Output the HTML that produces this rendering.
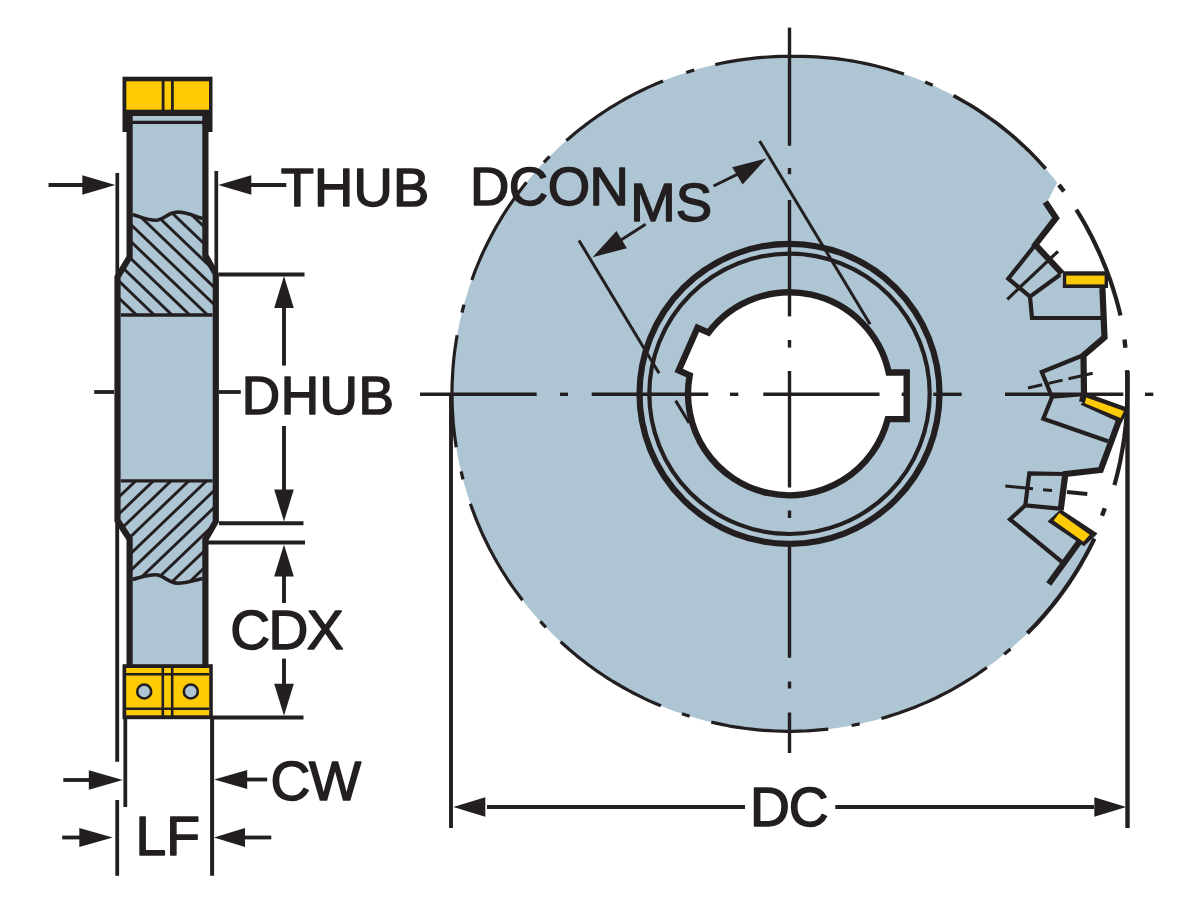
<!DOCTYPE html>
<html><head><meta charset="utf-8"><title>Side and face milling cutter dimensions</title>
<style>html,body{margin:0;padding:0;background:#fff}svg{display:block}text{font-family:"Liberation Sans",sans-serif;fill:#231F20}</style>
</head><body>
<svg role="img" aria-label="Side and face milling cutter dimension drawing" width="1200" height="900" viewBox="0 0 1200 900">
<rect width="1200" height="900" fill="#fff"/>
<path d="M1057.1,182.5 L1053.4,177.8 L1049.6,173.2 L1045.7,168.7 L1041.7,164.3 L1037.7,159.9 L1033.5,155.6 L1029.3,151.4 L1025.1,147.3 L1020.7,143.2 L1016.3,139.2 L1011.8,135.3 L1007.3,131.4 L1002.6,127.7 L997.9,124.1 L993.1,120.5 L988.3,117.1 L983.4,113.7 L978.5,110.4 L973.5,107.2 L968.4,104.1 L963.3,101.0 L958.1,98.1 L952.9,95.3 L947.6,92.5 L942.3,89.9 L937.0,87.3 L931.6,84.8 L926.1,82.5 L920.6,80.2 L915.1,78.1 L909.5,76.0 L903.9,74.1 L898.3,72.2 L892.6,70.5 L886.9,68.8 L881.2,67.3 L875.5,65.8 L869.7,64.5 L863.9,63.2 L858.1,62.1 L852.3,61.0 L846.5,60.1 L840.6,59.3 L834.7,58.5 L828.9,57.9 L823.0,57.4 L817.1,56.9 L811.2,56.6 L805.3,56.4 L799.4,56.3 L793.5,56.3 L787.6,56.3 L781.7,56.4 L775.8,56.6 L770.0,56.9 L764.1,57.3 L758.2,57.8 L752.4,58.4 L746.5,59.1 L740.7,59.9 L734.8,60.8 L729.0,61.8 L723.2,62.9 L717.5,64.1 L711.7,65.4 L706.0,66.8 L700.3,68.3 L694.6,69.9 L689.0,71.6 L683.4,73.4 L677.8,75.3 L672.3,77.3 L666.8,79.4 L661.3,81.6 L655.9,83.9 L650.5,86.3 L645.1,88.7 L639.8,91.3 L634.6,94.0 L629.4,96.7 L624.2,99.6 L619.1,102.5 L614.0,105.5 L609.0,108.6 L604.1,111.8 L599.2,115.1 L594.3,118.5 L589.6,121.9 L584.8,125.4 L580.2,129.0 L575.6,132.7 L571.1,136.5 L566.6,140.4 L562.2,144.3 L557.9,148.3 L553.6,152.4 L549.5,156.5 L545.4,160.8 L541.3,165.1 L537.4,169.4 L533.5,173.9 L529.7,178.4 L526.0,182.9 L522.3,187.6 L518.8,192.3 L515.3,197.0 L511.9,201.8 L508.6,206.7 L505.4,211.7 L502.2,216.6 L499.2,221.7 L496.2,226.8 L493.4,231.9 L490.6,237.1 L487.9,242.4 L485.3,247.6 L482.8,253.0 L480.4,258.4 L478.1,263.8 L475.8,269.2 L473.7,274.7 L471.7,280.3 L469.7,285.8 L467.9,291.4 L466.2,297.1 L464.5,302.7 L463.0,308.4 L461.5,314.1 L460.2,319.9 L459.0,325.6 L457.8,331.4 L456.8,337.2 L455.8,343.0 L455.0,348.8 L454.3,354.7 L453.6,360.5 L453.1,366.4 L452.7,372.3 L452.4,378.2 L452.1,384.1 L452.0,390.0 L452.0,395.8 L452.1,401.7 L452.3,407.6 L452.6,413.5 L453.0,419.4 L453.5,425.3 L454.1,431.1 L454.8,437.0 L455.6,442.8 L456.5,448.6 L457.5,454.4 L458.6,460.2 L459.8,466.0 L461.1,471.7 L462.5,477.5 L464.0,483.2 L465.7,488.8 L467.4,494.5 L469.2,500.1 L471.1,505.6 L473.1,511.2 L475.2,516.7 L477.4,522.2 L479.7,527.6 L482.0,533.0 L484.5,538.3 L487.1,543.6 L489.7,548.9 L492.5,554.1 L495.3,559.3 L498.3,564.4 L501.3,569.4 L504.4,574.4 L507.6,579.4 L510.9,584.3 L514.3,589.1 L517.7,593.9 L521.2,598.6 L524.9,603.3 L528.6,607.8 L532.3,612.4 L536.2,616.8 L540.1,621.2 L544.1,625.5 L548.2,629.8 L552.4,634.0 L556.6,638.1 L560.9,642.1 L565.3,646.0 L569.7,649.9 L574.2,653.7 L578.8,657.4 L583.4,661.1 L588.1,664.6 L592.9,668.1 L597.7,671.5 L602.6,674.8 L607.5,678.0 L612.5,681.2 L617.5,684.2 L622.6,687.2 L627.8,690.0 L633.0,692.8 L638.2,695.5 L643.5,698.1 L648.8,700.6 L654.2,703.0 L659.6,705.3 L665.1,707.5 L670.6,709.7 L676.1,711.7 L681.7,713.6 L687.3,715.5 L692.9,717.2 L698.6,718.8 L704.3,720.4 L710.0,721.8 L715.7,723.1 L721.5,724.4 L727.3,725.5 L733.1,726.5 L738.9,727.5 L744.7,728.3 L750.6,729.0 L756.4,729.7 L762.3,730.2 L768.2,730.6 L774.1,730.9 L779.9,731.2 L785.8,731.3 L791.7,731.3 L797.6,731.2 L803.5,731.0 L809.4,730.7 L815.3,730.3 L821.1,729.8 L827.0,729.2 L832.9,728.5 L838.7,727.7 L844.5,726.8 L850.3,725.8 L856.1,724.7 L861.9,723.4 L867.6,722.1 L873.3,720.7 L879.0,719.2 L884.7,717.6 L890.3,715.9 L895.9,714.1 L901.5,712.2 L907.1,710.2 L912.6,708.1 L918.0,705.9 L923.5,703.6 L928.8,701.2 L934.2,698.7 L939.5,696.1 L944.8,693.5 L950.0,690.7 L955.1,687.9 L960.2,684.9 L965.3,681.9 L970.3,678.8 L975.2,675.6 L980.1,672.3 L985.0,668.9 L989.7,665.5 L994.4,661.9 L999.1,658.3 L1003.7,654.6 L1008.2,650.9 L1012.7,647.0 L1017.0,643.1 L1021.4,639.0 L1025.6,635.0 L1029.8,630.8 L1033.9,626.6 L1037.9,622.3 L1041.9,617.9 L1045.7,613.5 L1049.5,609.0 L1053.2,604.4 L1056.9,599.7 L1060.4,595.0 L1063.9,590.3 L1067.3,585.5 L1070.6,580.6 L1073.8,575.6 L1077.0,570.7 L1080.0,565.6 L1082.9,560.5 L1085.8,555.4 L1088.6,550.2 L1091.3,544.9 L1093.9,539.6 L1096.4,534.3 L1083.0,545.0 L1060.7,510.0 L1065.3,474.0 L1100.7,470.0 L1120.0,420.0 L1082.0,403.3 L1084.0,394.0 L1083.3,355.3 L1104.7,337.3 L1103.3,288.0 L1062.7,288.0 L1062.0,273.3 L1035.3,244.7 L1056.0,218.0 L1045.3,202.0 L1049.0,198.8 Z" fill="#AEC5D3"/>
<path d="M715.3,64.6 L721.1,63.3 L727.0,62.1 L732.9,61.1 L738.7,60.1 L744.6,59.3 L750.6,58.6 L756.5,57.9 L762.4,57.4 L768.4,57.0 L774.3,56.6 L780.3,56.4 L786.3,56.3 L792.2,56.3 L798.2,56.3 L804.2,56.4 L810.1,56.6 L816.1,56.9 L822.1,57.3 L828.0,57.8 L834.0,58.4 L839.9,59.2 L845.8,60.0 L851.7,60.9 L857.6,62.0 L863.5,63.1 L869.3,64.4 L875.2,65.7 L881.0,67.2 L886.8,68.8 L892.5,70.5 L898.3,72.2 L904.0,74.1" fill="none" stroke="#231F20" stroke-width="3.2" stroke-linejoin="round"/>
<path d="M953.5,95.6 L958.9,98.6 L964.3,101.7 L969.7,104.8 L974.9,108.1 L980.2,111.5 L985.3,115.0 L990.4,118.6 L995.5,122.2 L1000.4,126.0 L1005.3,129.9 L1010.2,133.8 L1014.9,137.9 L1019.5,142.1 L1024.1,146.3 L1028.6,150.6 L1033.0,155.0 L1037.3,159.5 L1041.5,164.1 L1045.7,168.7" fill="none" stroke="#231F20" stroke-width="3.6" stroke-linejoin="round"/>
<path d="M1076.3,209.7 L1079.5,214.8 L1082.6,220.0 L1085.6,225.3 L1088.5,230.7 L1091.3,236.0 L1094.0,241.5 L1096.6,247.0 L1099.2,252.5 L1101.6,258.0 L1103.9,263.6 L1106.2,269.3 L1108.3,274.9 L1110.4,280.6 L1112.3,286.4 L1114.1,292.2 L1115.9,298.0 L1117.5,303.8 L1119.1,309.7 L1120.5,315.6" fill="none" stroke="#231F20" stroke-width="4.2" stroke-linejoin="round"/>
<path d="M1127.0,370.2 L1127.3,376.3 L1127.4,382.4 L1127.4,388.6 L1127.3,394.7 L1127.2,400.8 L1127.0,406.9 L1126.7,413.0 L1126.2,419.1 L1125.7,425.2 L1125.0,431.2 L1124.3,437.3 L1123.4,443.4 L1122.4,449.4 L1121.3,455.4 L1120.2,461.4 L1118.9,467.4 L1117.5,473.3 L1116.0,479.2 L1114.4,485.1" fill="none" stroke="#231F20" stroke-width="4.2" stroke-linejoin="round"/>
<path d="M1094.4,538.6 L1091.7,544.1 L1088.9,549.6 L1086.0,555.0 L1083.0,560.3 L1080.0,565.7 L1076.8,570.9 L1073.5,576.1 L1070.2,581.2 L1066.7,586.3 L1063.2,591.3 L1059.5,596.3 L1055.8,601.1 L1052.0,606.0 L1048.1,610.7 L1044.1,615.4 L1040.0,620.0 L1035.9,624.5 L1031.6,628.9 L1027.3,633.3" fill="none" stroke="#231F20" stroke-width="4.2" stroke-linejoin="round"/>
<path d="M986.9,667.5 L982.1,670.9 L977.2,674.3 L972.3,677.5 L967.3,680.6 L962.3,683.7 L957.2,686.7 L952.1,689.6 L946.9,692.3 L941.7,695.0 L936.4,697.7 L931.1,700.2 L925.7,702.6 L920.3,704.9 L914.8,707.2 L909.3,709.3 L903.8,711.3 L898.3,713.3 L892.7,715.1 L887.0,716.9 L881.4,718.5" fill="none" stroke="#231F20" stroke-width="3.2" stroke-linejoin="round"/>
<path d="M828.3,729.1 L822.4,729.7 L816.6,730.2 L810.7,730.6 L804.8,731.0 L798.9,731.2 L793.0,731.3 L787.1,731.3 L781.3,731.2 L775.4,731.0 L769.5,730.7 L763.6,730.3 L757.7,729.8 L751.9,729.2 L746.0,728.5 L740.2,727.7 L734.4,726.8 L728.6,725.8 L722.8,724.6 L717.0,723.4 L711.3,722.1" fill="none" stroke="#231F20" stroke-width="3.2" stroke-linejoin="round"/>
<path d="M660.9,705.8 L655.4,703.5 L649.9,701.1 L644.5,698.6 L639.1,695.9 L633.8,693.2 L628.5,690.4 L623.3,687.5 L618.1,684.5 L613.0,681.5 L607.9,678.3 L602.9,675.0 L597.9,671.7 L593.1,668.2 L588.2,664.7 L583.5,661.1 L578.8,657.4 L574.1,653.6 L569.6,649.8 L565.1,645.8 L560.6,641.8" fill="none" stroke="#231F20" stroke-width="3.2" stroke-linejoin="round"/>
<path d="M522.5,600.2 L518.8,595.3 L515.2,590.4 L511.6,585.4 L508.2,580.3 L504.9,575.2 L501.6,570.0 L498.5,564.7 L495.4,559.4 L492.5,554.1 L489.6,548.7 L486.9,543.2 L484.2,537.7 L481.6,532.1 L479.2,526.5 L476.8,520.9 L474.6,515.2 L472.4,509.4 L470.4,503.7" fill="none" stroke="#231F20" stroke-width="3.2" stroke-linejoin="round"/>
<path d="M456.2,447.2 L455.4,441.3 L454.6,435.5 L453.9,429.6 L453.3,423.7 L452.9,417.8 L452.5,411.9 L452.2,406.0 L452.1,400.0 L452.0,394.1 L452.0,388.2 L452.2,382.3 L452.5,376.4 L452.8,370.4 L453.3,364.5 L453.8,358.6 L454.5,352.8 L455.3,346.9 L456.2,341.0 L457.1,335.2" fill="none" stroke="#231F20" stroke-width="3.2" stroke-linejoin="round"/>
<path d="M471.8,280.0 L473.8,274.5 L475.9,269.0 L478.2,263.5 L480.5,258.0 L482.9,252.6 L485.5,247.3 L488.1,242.0 L490.8,236.7 L493.6,231.5 L496.5,226.3 L499.5,221.2 L502.5,216.1 L505.7,211.1 L509.0,206.2 L512.3,201.3 L515.7,196.5 L519.2,191.7 L522.8,187.0 L526.5,182.3" fill="none" stroke="#231F20" stroke-width="3.2" stroke-linejoin="round"/>
<path d="M566.3,140.6 L570.9,136.7 L575.5,132.8 L580.2,129.1 L584.9,125.4 L589.7,121.8 L594.6,118.3 L599.5,114.8 L604.5,111.5 L609.6,108.2 L614.7,105.1 L619.9,102.0 L625.1,99.0 L630.4,96.2 L635.7,93.4 L641.1,90.7 L646.5,88.1 L652.0,85.6 L657.5,83.2 L663.1,80.9" fill="none" stroke="#231F20" stroke-width="3.2" stroke-linejoin="round"/>
<path d="M925.1,82.0 L932.7,85.3" fill="none" stroke="#231F20" stroke-width="3.3" stroke-linejoin="round"/>
<path d="M1058.9,184.8 L1064.0,191.4" fill="none" stroke="#231F20" stroke-width="4.4" stroke-linejoin="round"/>
<path d="M1124.5,339.5 L1125.4,347.8" fill="none" stroke="#231F20" stroke-width="4.4" stroke-linejoin="round"/>
<path d="M1010.5,648.9 L1004.2,654.2" fill="none" stroke="#231F20" stroke-width="3.3" stroke-linejoin="round"/>
<path d="M859.7,723.9 L851.6,725.5" fill="none" stroke="#231F20" stroke-width="3.3" stroke-linejoin="round"/>
<path d="M689.7,716.2 L681.9,713.7" fill="none" stroke="#231F20" stroke-width="3.3" stroke-linejoin="round"/>
<path d="M545.9,627.4 L540.3,621.4" fill="none" stroke="#231F20" stroke-width="3.3" stroke-linejoin="round"/>
<path d="M463.0,479.4 L461.1,471.4" fill="none" stroke="#231F20" stroke-width="3.3" stroke-linejoin="round"/>
<path d="M461.9,312.7 L464.0,304.7" fill="none" stroke="#231F20" stroke-width="3.3" stroke-linejoin="round"/>
<path d="M543.9,162.3 L549.6,156.4" fill="none" stroke="#231F20" stroke-width="3.3" stroke-linejoin="round"/>
<path d="M686.3,72.5 L694.2,70.0" fill="none" stroke="#231F20" stroke-width="3.3" stroke-linejoin="round"/>
<circle cx="789.5" cy="393.8" r="150" fill="none" stroke="#231F20" stroke-width="6.2"/>
<circle cx="789.5" cy="393.8" r="140.2" fill="none" stroke="#231F20" stroke-width="4.2"/>
<path d="M888.7,372.5 L906.7,372.5 L906.7,419.1 L887.8,419.1 A101.5,101.5 0 0 1 689.7,375.3 L678.7,370.4 L697.5,327.8 L708.5,332.6 A101.5,101.5 0 0 1 888.7,372.5 Z" fill="#fff" stroke="#231F20" stroke-width="6.4" stroke-linejoin="miter"/>
<line x1="420.0" y1="394.3" x2="536.7" y2="394.3" stroke="#231F20" stroke-width="3.4" />
<line x1="560.0" y1="394.3" x2="568.0" y2="394.3" stroke="#231F20" stroke-width="3.4" />
<line x1="591.7" y1="394.3" x2="708.3" y2="394.3" stroke="#231F20" stroke-width="3.4" />
<line x1="730.0" y1="394.3" x2="738.3" y2="394.3" stroke="#231F20" stroke-width="3.4" />
<line x1="763.3" y1="394.3" x2="879.5" y2="394.3" stroke="#231F20" stroke-width="3.4" />
<line x1="901.7" y1="394.3" x2="906.7" y2="394.3" stroke="#231F20" stroke-width="3.4" />
<line x1="933.3" y1="394.3" x2="961.7" y2="394.3" stroke="#231F20" stroke-width="3.4" />
<line x1="1005.0" y1="394.3" x2="1123.3" y2="394.3" stroke="#231F20" stroke-width="3.4" />
<line x1="1145.0" y1="394.3" x2="1153.3" y2="394.3" stroke="#231F20" stroke-width="3.4" />
<line x1="789.5" y1="27.6" x2="789.5" y2="145.8" stroke="#231F20" stroke-width="3.4" />
<line x1="789.5" y1="168.0" x2="789.5" y2="174.2" stroke="#231F20" stroke-width="3.4" />
<line x1="789.5" y1="200.0" x2="789.5" y2="316.4" stroke="#231F20" stroke-width="3.4" />
<line x1="789.5" y1="340.0" x2="789.5" y2="347.6" stroke="#231F20" stroke-width="3.4" />
<line x1="789.5" y1="371.0" x2="789.5" y2="487.5" stroke="#231F20" stroke-width="3.4" />
<line x1="789.5" y1="510.5" x2="789.5" y2="518.0" stroke="#231F20" stroke-width="3.4" />
<line x1="789.5" y1="547.0" x2="789.5" y2="657.8" stroke="#231F20" stroke-width="3.4" />
<line x1="789.5" y1="681.5" x2="789.5" y2="688.5" stroke="#231F20" stroke-width="3.4" />
<line x1="789.5" y1="712.5" x2="789.5" y2="753.0" stroke="#231F20" stroke-width="3.4" />
<line x1="579.0" y1="240.5" x2="659.1" y2="373.2" stroke="#231F20" stroke-width="3.0" />
<line x1="675.6" y1="400.6" x2="689.1" y2="422.9" stroke="#231F20" stroke-width="3.0" />
<line x1="759.6" y1="140.9" x2="870.1" y2="324.2" stroke="#231F20" stroke-width="3.0" />
<polygon points="592.6,257.2 616.5,231.1 626.9,248.2" fill="#231F20"/>
<line x1="609.7" y1="247.2" x2="645.6" y2="224.3" stroke="#231F20" stroke-width="3.0" />
<polygon points="766.5,158.3 742.6,184.4 732.2,167.3" fill="#231F20"/>
<line x1="748.9" y1="168.6" x2="713.6" y2="186.0" stroke="#231F20" stroke-width="3.0" />
<path d="M1045.3,202.0 L1056.0,218.0 L1035.3,244.7 L1062.0,273.3" fill="none" stroke="#231F20" stroke-width="6.2" stroke-linejoin="miter" />
<path d="M1102.4,288.0 L1104.5,337.3 L1083.5,355.3 L1084.0,394.0 L1082.0,402.0" fill="none" stroke="#231F20" stroke-width="6.2" stroke-linejoin="miter" />
<path d="M1119.0,420.5 L1100.7,470.0 L1065.3,474.0 L1060.7,510.0" fill="none" stroke="#231F20" stroke-width="6.2" stroke-linejoin="miter" />
<path d="M1079.5,541.5 L1048.7,584.0" fill="none" stroke="#231F20" stroke-width="6.2" stroke-linejoin="miter" />
<rect x="1062.7" y="271.3" width="45.3" height="16.7" fill="#231F20"/>
<rect x="1066.2" y="275.6" width="38.4" height="8.8" fill="#FFCB05"/>
<path d="M1035.3,244.7 L1008.3,278.7 L1030.0,296.7 L1060.0,274.7" fill="none" stroke="#231F20" stroke-width="4.2" stroke-linejoin="miter" />
<line x1="1058.0" y1="251.3" x2="1007.3" y2="299.3" stroke="#231F20" stroke-width="3.2" />
<path d="M1030.0,296.7 L1032.0,318.0 L1102.7,318.0" fill="none" stroke="#231F20" stroke-width="4.2" stroke-linejoin="miter" />
<path d="M1088.3,393.6 L1129.3,408.3 L1121.3,423.3 L1080.7,404.7 Z" fill="#231F20" stroke="none" stroke-width="0" stroke-linejoin="miter" />
<path d="M1086.3,397.5 L1124.0,411.1 L1120.6,418.1 L1084.8,403.2 Z" fill="#FFCB05" stroke="none" stroke-width="0" stroke-linejoin="miter" />
<path d="M1082.0,355.8 L1041.8,372.0 L1052.0,397.3" fill="none" stroke="#231F20" stroke-width="4.2" stroke-linejoin="miter" />
<line x1="1052.0" y1="397.3" x2="1083.0" y2="394.8" stroke="#231F20" stroke-width="3.0" />
<line x1="1028.0" y1="388.0" x2="1092.7" y2="373.3" stroke="#231F20" stroke-width="3.0" stroke-dasharray="14.5 6.5 14.5 6 14 4 8 0"/>
<path d="M1052.0,397.3 L1043.3,418.7 L1108.0,441.3" fill="none" stroke="#231F20" stroke-width="4.2" stroke-linejoin="miter" />
<path d="M1060.7,509.3 L1097.5,533.5 L1084.0,546.3 L1047.5,521.6 Z" fill="#231F20" stroke="none" stroke-width="0" stroke-linejoin="miter" />
<path d="M1059.3,513.1 L1089.7,534.7 L1083.4,541.8 L1053.6,520.4 Z" fill="#FFCB05" stroke="none" stroke-width="0" stroke-linejoin="miter" />
<path d="M1065.3,474.0 L1029.3,473.3 L1025.3,505.3 L1059.3,508.7" fill="none" stroke="#231F20" stroke-width="4.2" stroke-linejoin="miter" />
<line x1="1005.3" y1="486.0" x2="1033.0" y2="488.7" stroke="#231F20" stroke-width="3.0" />
<line x1="1043.0" y1="489.7" x2="1052.0" y2="490.5" stroke="#231F20" stroke-width="3.0" />
<line x1="1067.0" y1="492.0" x2="1087.3" y2="494.0" stroke="#231F20" stroke-width="3.9" />
<path d="M1025.3,505.3 L1010.0,519.3 L1062.7,562.7" fill="none" stroke="#231F20" stroke-width="4.2" stroke-linejoin="miter" />
<line x1="1104.8" y1="508.3" x2="1102.0" y2="515.7" stroke="#231F20" stroke-width="4.4" />
<line x1="451.0" y1="393.0" x2="451.0" y2="828.0" stroke="#231F20" stroke-width="3.9" />
<line x1="1127.5" y1="371.0" x2="1127.5" y2="828.0" stroke="#231F20" stroke-width="4.4" />
<line x1="487.0" y1="807.0" x2="745.0" y2="807.0" stroke="#231F20" stroke-width="3.9" />
<line x1="835.3" y1="807.0" x2="1094.0" y2="807.0" stroke="#231F20" stroke-width="3.9" />
<polygon points="453.3,807.0 485.3,797.2 485.3,816.8" fill="#231F20"/>
<polygon points="1126.3,807.0 1094.3,816.8 1094.3,797.2" fill="#231F20"/>
<text x="750.0" y="826.4" font-size="55.2" letter-spacing="-1.0" stroke="#231F20" stroke-width="1.5" stroke-linejoin="round" >DC</text>
<text x="470.0" y="205.0" font-size="54.5" letter-spacing="-0.5" stroke="#231F20" stroke-width="1.5" stroke-linejoin="round" >DCON</text>
<text x="630.3" y="220.6" font-size="54.5" letter-spacing="0" stroke="#231F20" stroke-width="1.5" stroke-linejoin="round" >MS</text>
<rect x="122.5" y="76.7" width="90" height="55.3" fill="#231F20"/>
<path d="M129.6,116.0 L129.6,257.0 L117.5,277.0 L117.5,520.5 L129.6,539.0 L129.6,668.0 L205.4,668.0 L205.4,539.5 L215.8,521.5 L215.8,274.0 L205.4,255.5 L205.4,116.0 Z" fill="#AEC5D3" stroke="none" stroke-width="0" stroke-linejoin="miter" />
<clipPath id="h1"><path d="M132.5,214.5 C144,218 151,221.5 158,220 C166,218 168,212.5 177.5,212 C187,212 195,216.5 202.5,218.5 L205.4,255.5 L215.8,274 L215.8,315 L117.5,315 L117.5,277 L129.6,257 L129.6,214 Z"/></clipPath>
<g clip-path="url(#h1)">
<line x1="-19.0" y1="200.0" x2="116.7" y2="330.0" stroke="#231F20" stroke-width="2.9" />
<line x1="-1.3" y1="200.0" x2="134.4" y2="330.0" stroke="#231F20" stroke-width="2.9" />
<line x1="16.5" y1="200.0" x2="152.2" y2="330.0" stroke="#231F20" stroke-width="2.9" />
<line x1="34.2" y1="200.0" x2="169.9" y2="330.0" stroke="#231F20" stroke-width="2.9" />
<line x1="52.0" y1="200.0" x2="187.7" y2="330.0" stroke="#231F20" stroke-width="2.9" />
<line x1="69.7" y1="200.0" x2="205.4" y2="330.0" stroke="#231F20" stroke-width="2.9" />
<line x1="87.5" y1="200.0" x2="223.2" y2="330.0" stroke="#231F20" stroke-width="2.9" />
<line x1="105.2" y1="200.0" x2="240.9" y2="330.0" stroke="#231F20" stroke-width="2.9" />
<line x1="123.0" y1="200.0" x2="258.7" y2="330.0" stroke="#231F20" stroke-width="2.9" />
<line x1="140.7" y1="200.0" x2="276.4" y2="330.0" stroke="#231F20" stroke-width="2.9" />
<line x1="158.5" y1="200.0" x2="294.2" y2="330.0" stroke="#231F20" stroke-width="2.9" />
<line x1="176.2" y1="200.0" x2="311.9" y2="330.0" stroke="#231F20" stroke-width="2.9" />
</g>
<clipPath id="h2"><path d="M132.5,579.5 C144,576.5 151,573.5 158,575 C166,577 168,582.5 177.5,583.2 C187,583.2 195,580 202.5,578.5 L205.4,539.5 L215.8,521.5 L215.8,480.8 L117.5,480.8 L117.5,520.5 L129.6,539 L129.6,580 Z"/></clipPath>
<g clip-path="url(#h2)">
<line x1="111.7" y1="470.0" x2="-24.0" y2="600.0" stroke="#231F20" stroke-width="2.9" />
<line x1="129.4" y1="470.0" x2="-6.3" y2="600.0" stroke="#231F20" stroke-width="2.9" />
<line x1="147.1" y1="470.0" x2="11.4" y2="600.0" stroke="#231F20" stroke-width="2.9" />
<line x1="164.8" y1="470.0" x2="29.1" y2="600.0" stroke="#231F20" stroke-width="2.9" />
<line x1="182.5" y1="470.0" x2="46.8" y2="600.0" stroke="#231F20" stroke-width="2.9" />
<line x1="200.2" y1="470.0" x2="64.5" y2="600.0" stroke="#231F20" stroke-width="2.9" />
<line x1="217.9" y1="470.0" x2="82.2" y2="600.0" stroke="#231F20" stroke-width="2.9" />
<line x1="235.6" y1="470.0" x2="99.9" y2="600.0" stroke="#231F20" stroke-width="2.9" />
<line x1="253.3" y1="470.0" x2="117.6" y2="600.0" stroke="#231F20" stroke-width="2.9" />
<line x1="271.0" y1="470.0" x2="135.3" y2="600.0" stroke="#231F20" stroke-width="2.9" />
<line x1="288.7" y1="470.0" x2="153.0" y2="600.0" stroke="#231F20" stroke-width="2.9" />
<line x1="306.4" y1="470.0" x2="170.7" y2="600.0" stroke="#231F20" stroke-width="2.9" />
</g>
<path d="M132.5,214.5 C144,218 151,221.5 158,220 C166,218 168,212.5 177.5,212 C187,212 195,216.5 202.5,218.5" fill="none" stroke="#231F20" stroke-width="3.6"/>
<path d="M132.5,579.5 C144,576.5 151,573.5 158,575 C166,577 168,582.5 177.5,583.2 C187,583.2 195,580 202.5,578.5" fill="none" stroke="#231F20" stroke-width="3.6"/>
<line x1="120.8" y1="315.0" x2="212.5" y2="315.0" stroke="#231F20" stroke-width="3.3" />
<line x1="120.8" y1="480.8" x2="212.5" y2="480.8" stroke="#231F20" stroke-width="3.3" />
<path d="M129.6,113.0 L129.6,257.0 L117.5,277.0 L117.5,520.5 L129.6,539.0 L129.6,666.0" fill="none" stroke="#231F20" stroke-width="6.2" stroke-linejoin="miter" />
<path d="M205.4,113.0 L205.4,255.5 L215.8,274.0 L215.8,521.5 L205.4,539.5 L205.4,666.0" fill="none" stroke="#231F20" stroke-width="6.2" stroke-linejoin="miter" />
<line x1="132.0" y1="122.4" x2="203.0" y2="122.4" stroke="#231F20" stroke-width="3.2" />
<rect x="126.3" y="81.3" width="82.7" height="28.4" fill="#FFCB05"/>
<line x1="163.1" y1="80.0" x2="163.1" y2="111.0" stroke="#231F20" stroke-width="2.8" />
<line x1="172.4" y1="80.0" x2="172.4" y2="111.0" stroke="#231F20" stroke-width="2.8" />
<rect x="122.5" y="664.2" width="90.3" height="55" fill="#231F20"/>
<rect x="126.2" y="668" width="83" height="47.3" fill="#FFCB05"/>
<line x1="126.0" y1="674.2" x2="209.0" y2="674.2" stroke="#231F20" stroke-width="2.6" />
<line x1="126.0" y1="708.7" x2="209.0" y2="708.7" stroke="#231F20" stroke-width="2.6" />
<line x1="162.8" y1="666.0" x2="162.8" y2="717.0" stroke="#231F20" stroke-width="2.6" />
<line x1="172.2" y1="666.0" x2="172.2" y2="717.0" stroke="#231F20" stroke-width="2.6" />
<circle cx="144.2" cy="691.5" r="7" fill="#AEC5D3" stroke="#231F20" stroke-width="2.6"/>
<circle cx="190.8" cy="691.5" r="7" fill="#AEC5D3" stroke="#231F20" stroke-width="2.6"/>
<line x1="94.2" y1="392.0" x2="114.0" y2="392.0" stroke="#231F20" stroke-width="3.8" />
<line x1="219.0" y1="392.0" x2="240.8" y2="392.0" stroke="#231F20" stroke-width="3.8" />
<line x1="117.3" y1="173.0" x2="117.3" y2="277.0" stroke="#231F20" stroke-width="3.7" />
<line x1="216.3" y1="171.0" x2="216.3" y2="272.0" stroke="#231F20" stroke-width="3.7" />
<polygon points="115.3,185.0 82.3,194.8 82.3,175.2" fill="#231F20"/>
<line x1="48.5" y1="185.0" x2="85.0" y2="185.0" stroke="#231F20" stroke-width="3.8" />
<polygon points="218.3,185.0 251.3,175.2 251.3,194.8" fill="#231F20"/>
<line x1="250.0" y1="185.0" x2="286.3" y2="185.0" stroke="#231F20" stroke-width="3.8" />
<text x="280.8" y="206.0" font-size="54.4" letter-spacing="0.1" stroke="#231F20" stroke-width="1.5" stroke-linejoin="round" >THUB</text>
<line x1="219.0" y1="274.5" x2="304.5" y2="274.5" stroke="#231F20" stroke-width="3.9" />
<line x1="219.0" y1="523.3" x2="303.5" y2="523.3" stroke="#231F20" stroke-width="3.9" />
<polygon points="284.0,276.0 293.8,308.0 274.2,308.0" fill="#231F20"/>
<line x1="284.0" y1="306.0" x2="284.0" y2="365.6" stroke="#231F20" stroke-width="3.9" />
<polygon points="284.0,521.5 274.2,489.5 293.8,489.5" fill="#231F20"/>
<line x1="284.0" y1="426.0" x2="284.0" y2="490.0" stroke="#231F20" stroke-width="3.9" />
<text x="241.8" y="413.8" font-size="53.2" letter-spacing="0.45" stroke="#231F20" stroke-width="1.5" stroke-linejoin="round" >DHUB</text>
<line x1="208.0" y1="542.5" x2="305.0" y2="542.5" stroke="#231F20" stroke-width="3.9" />
<line x1="212.0" y1="717.5" x2="303.5" y2="717.5" stroke="#231F20" stroke-width="3.9" />
<polygon points="284.0,544.4 293.8,576.4 274.2,576.4" fill="#231F20"/>
<line x1="284.0" y1="575.0" x2="284.0" y2="603.0" stroke="#231F20" stroke-width="3.9" />
<polygon points="284.0,715.8 274.2,683.8 293.8,683.8" fill="#231F20"/>
<line x1="284.0" y1="658.6" x2="284.0" y2="685.0" stroke="#231F20" stroke-width="3.9" />
<text x="230.2" y="649.2" font-size="55.2" letter-spacing="-1.6" stroke="#231F20" stroke-width="1.5" stroke-linejoin="round" >CDX</text>
<line x1="117.2" y1="523.0" x2="117.2" y2="761.7" stroke="#231F20" stroke-width="3.9" />
<line x1="117.2" y1="800.0" x2="117.2" y2="875.8" stroke="#231F20" stroke-width="3.8" />
<line x1="125.3" y1="719.0" x2="125.3" y2="807.0" stroke="#231F20" stroke-width="3.8" />
<line x1="212.1" y1="719.0" x2="212.1" y2="875.8" stroke="#231F20" stroke-width="4.0" />
<polygon points="122.8,780.0 88.8,789.8 88.8,770.2" fill="#231F20"/>
<line x1="63.3" y1="780.0" x2="90.0" y2="780.0" stroke="#231F20" stroke-width="3.8" />
<polygon points="214.2,779.5 247.2,769.9 247.2,789.1" fill="#231F20"/>
<line x1="246.0" y1="779.5" x2="267.2" y2="779.5" stroke="#231F20" stroke-width="3.8" />
<text x="270.5" y="799.5" font-size="55.2" letter-spacing="-1.4" stroke="#231F20" stroke-width="1.5" stroke-linejoin="round" >CW</text>
<polygon points="112.8,837.5 79.3,847.1 79.3,827.9" fill="#231F20"/>
<line x1="62.2" y1="837.5" x2="81.0" y2="837.5" stroke="#231F20" stroke-width="3.8" />
<polygon points="214.0,837.5 245.0,827.9 245.0,847.1" fill="#231F20"/>
<line x1="243.0" y1="837.5" x2="271.3" y2="837.5" stroke="#231F20" stroke-width="3.8" />
<text x="135.5" y="855.0" font-size="55.2" letter-spacing="0" stroke="#231F20" stroke-width="1.5" stroke-linejoin="round" >LF</text>
</svg>
</body></html>
